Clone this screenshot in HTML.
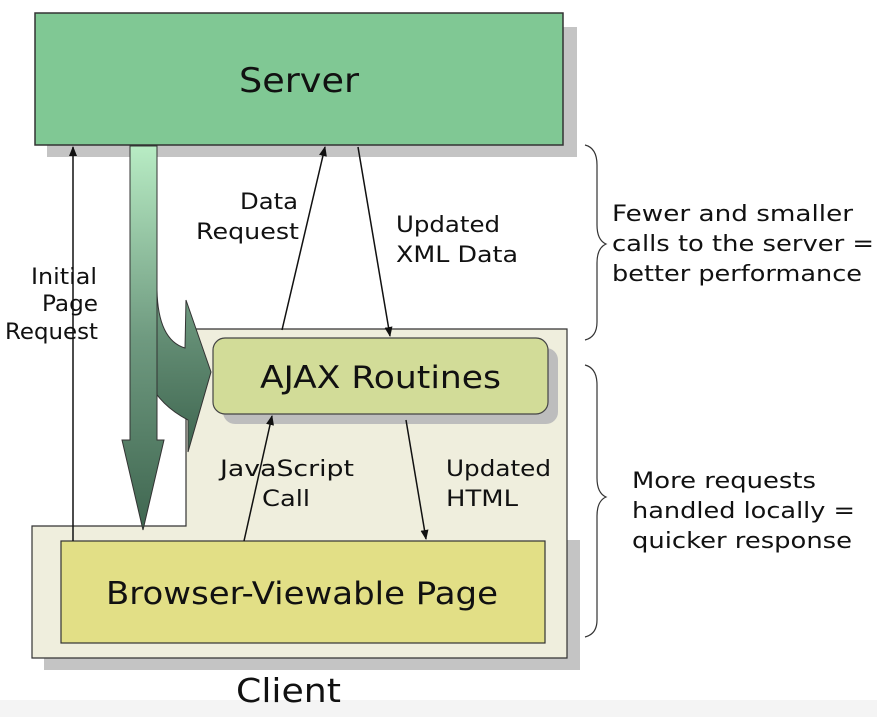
<!DOCTYPE html>
<html><head><style>body{margin:0;background:#fff}svg{display:block}text{font-family:"DejaVu Sans","Liberation Sans",sans-serif;fill:#111}</style></head><body>
<svg width="877" height="717" viewBox="0 0 877 717">
<defs>
<linearGradient id="g" x1="0" y1="0" x2="0" y2="1"><stop offset="0" stop-color="#b8ecc4"/><stop offset="0.5" stop-color="#6f9a80"/><stop offset="1" stop-color="#3f6650"/></linearGradient>
<marker id="a" markerWidth="10" markerHeight="10" refX="9" refY="5" orient="auto" markerUnits="userSpaceOnUse"><path d="M0,1 L10,5 L0,9z" fill="#111"/></marker>
</defs>
<rect x="0" y="700" width="877" height="17" fill="#f4f4f4"/>
<rect x="47" y="27" width="530" height="130" fill="#c4c4c4"/>
<rect x="35" y="13" width="528" height="132" fill="#80c894" stroke="#333" stroke-width="1.5"/>
<text x="239" y="92" font-size="34" textLength="120" lengthAdjust="spacingAndGlyphs">Server</text>
<path d="M44,536 L44,670 L580,670 L580,540 L567,540 L567,658 L44,658z" fill="#c4c4c4"/>
<path d="M32,526 L186,526 L186,329 L567,329 L567,658 L32,658z" fill="#efeedd" stroke="#333" stroke-width="1.2"/>
<rect x="223" y="348" width="335" height="76" rx="12" fill="#bdbdbd"/>
<rect x="213" y="338" width="335" height="76" rx="12" fill="#d2dc98" stroke="#444" stroke-width="1.2"/>
<text x="260" y="388" font-size="31" textLength="241" lengthAdjust="spacingAndGlyphs">AJAX Routines</text>
<rect x="61" y="541" width="484" height="102" fill="#e2df86" stroke="#333" stroke-width="1.2"/>
<text x="106" y="604" font-size="31" textLength="392" lengthAdjust="spacingAndGlyphs">Browser-Viewable Page</text>
<text x="236" y="702" font-size="33" textLength="105" lengthAdjust="spacingAndGlyphs">Client</text>
<path d="M130,146 L157,146 L157,290 Q158,340 185,348 L186,300 L211,372 L188,452 L188,420 Q140,395 140,340 L132,300z" fill="url(#g)" stroke="#333" stroke-width="1"/>
<path d="M130,146 L157,146 L157,440 L164,440 L143,530 L122,440 L130,440z" fill="url(#g)" stroke="#333" stroke-width="1"/>
<line x1="73" y1="541" x2="73" y2="147" stroke="#111" stroke-width="1.5" marker-end="url(#a)"/>
<line x1="282" y1="330" x2="325" y2="147" stroke="#111" stroke-width="1.5" marker-end="url(#a)"/>
<line x1="358" y1="147" x2="390" y2="336" stroke="#111" stroke-width="1.5" marker-end="url(#a)"/>
<line x1="244" y1="541" x2="272" y2="416" stroke="#111" stroke-width="1.5" marker-end="url(#a)"/>
<line x1="406" y1="420" x2="426" y2="539" stroke="#111" stroke-width="1.5" marker-end="url(#a)"/>
<g font-size="22">
<text x="240" y="209" textLength="58" lengthAdjust="spacingAndGlyphs">Data</text>
<text x="196" y="239" textLength="103" lengthAdjust="spacingAndGlyphs">Request</text>
<text x="396" y="232" textLength="104" lengthAdjust="spacingAndGlyphs">Updated</text>
<text x="396" y="262" textLength="122" lengthAdjust="spacingAndGlyphs">XML Data</text>
<text x="31" y="284" textLength="66" lengthAdjust="spacingAndGlyphs">Initial</text>
<text x="42" y="311" textLength="56" lengthAdjust="spacingAndGlyphs">Page</text>
<text x="5" y="339" textLength="93" lengthAdjust="spacingAndGlyphs">Request</text>
<text x="220" y="476" textLength="134" lengthAdjust="spacingAndGlyphs">JavaScript</text>
<text x="262" y="506" textLength="48" lengthAdjust="spacingAndGlyphs">Call</text>
<text x="446" y="476" textLength="105" lengthAdjust="spacingAndGlyphs">Updated</text>
<text x="446" y="506" textLength="72" lengthAdjust="spacingAndGlyphs">HTML</text>
<text x="612" y="221" textLength="241" lengthAdjust="spacingAndGlyphs">Fewer and smaller</text>
<text x="612" y="251" textLength="262" lengthAdjust="spacingAndGlyphs">calls to the server =</text>
<text x="612" y="281" textLength="250" lengthAdjust="spacingAndGlyphs">better performance</text>
<text x="632" y="488" textLength="184" lengthAdjust="spacingAndGlyphs">More requests</text>
<text x="632" y="518" textLength="223" lengthAdjust="spacingAndGlyphs">handled locally =</text>
<text x="632" y="548" textLength="220" lengthAdjust="spacingAndGlyphs">quicker response</text>
</g>
<path d="M585,145 Q597,148 597,165 L597,225 Q597,240 606,244 Q597,248 597,263 L597,322 Q597,337 585,340" fill="none" stroke="#333" stroke-width="1.2"/>
<path d="M585,365 Q597,368 597,385 L597,478 Q597,493 606,497 Q597,501 597,516 L597,620 Q597,634 585,637" fill="none" stroke="#333" stroke-width="1.2"/>
</svg>
</body></html>
